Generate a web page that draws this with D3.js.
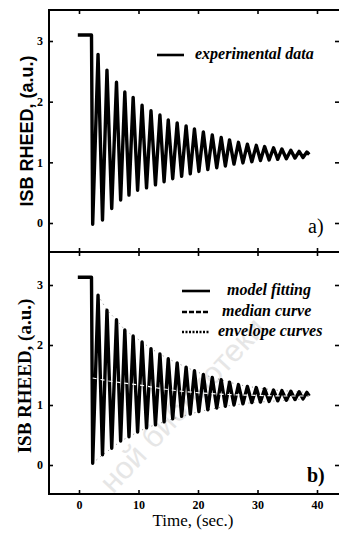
<!DOCTYPE html>
<html>
<head>
<meta charset="utf-8">
<script src="https://cdn.jsdelivr.net/npm/d3@7"></script>
<style>
  body { margin: 0; background: #fff; }
  svg { display: block; }
</style>
</head>
<body>
<svg id="chart" width="339" height="535"></svg>
<script>
// extrema (time in sec, intensity in a.u.)
const troughTimes = [2.3, 3.95, 5.5, 7.0, 8.4, 9.85, 11.35, 12.85, 14.3, 15.75, 17.25, 18.7, 20.15, 21.65, 23.15, 24.6, 26.05, 27.55, 29.05, 30.5, 31.95, 33.4, 34.85, 36.3, 37.65];
const peakTimes = [3.2, 4.7, 6.3, 7.7, 9.1, 10.6, 12.1, 13.6, 15.0, 16.5, 18.0, 19.4, 20.9, 22.4, 23.9, 25.3, 26.8, 28.3, 29.8, 31.2, 32.7, 34.1, 35.6, 37.0, 38.3];

const expPlateau = [[-0.2, 3.1], [2.1, 3.1]];
const expTroughs = [-0.02, 0.05, 0.24, 0.38, 0.46, 0.54, 0.58, 0.63, 0.68, 0.73, 0.77, 0.81, 0.85, 0.88, 0.91, 0.94, 0.97, 0.99, 1.01, 1.03, 1.04, 1.05, 1.06, 1.07, 1.08];
const expPeaks = [2.78, 2.52, 2.32, 2.16, 2.07, 1.94, 1.85, 1.78, 1.70, 1.65, 1.60, 1.55, 1.50, 1.45, 1.41, 1.37, 1.33, 1.30, 1.28, 1.26, 1.24, 1.22, 1.20, 1.18, 1.17];
const expEnd = [38.7, 1.13];

const fitPlateau = [[-0.2, 3.13], [2.1, 3.13]];
const fitTroughs = [0.03, 0.17, 0.28, 0.40, 0.47, 0.55, 0.62, 0.67, 0.72, 0.77, 0.81, 0.85, 0.89, 0.92, 0.95, 0.98, 1.00, 1.02, 1.04, 1.05, 1.06, 1.07, 1.08, 1.09, 1.10];
const fitPeaks = [2.83, 2.58, 2.42, 2.25, 2.15, 2.05, 1.94, 1.85, 1.77, 1.70, 1.63, 1.57, 1.51, 1.46, 1.42, 1.38, 1.34, 1.31, 1.29, 1.27, 1.25, 1.24, 1.23, 1.22, 1.21];
const fitEnd = [38.7, 1.15];

const medianTimes = [2.3, 5, 8, 11, 14, 18, 22, 26, 30, 34, 38.7];
const medianVals = [1.45, 1.40, 1.36, 1.32, 1.27, 1.22, 1.19, 1.17, 1.16, 1.15, 1.15];

const xTicks = [0, 10, 20, 30, 40];
const yTicks = [0, 1, 2, 3];

const svg = d3.select("#chart");
const serif = "'Liberation Serif', 'DejaVu Serif', serif";
const sans = "'Liberation Sans', Arial, sans-serif";

const x = d3.scaleLinear().domain([0, 40]).range([79, 317]);
const ya = d3.scaleLinear().domain([0, 3]).range([223, 41]);
const yb = d3.scaleLinear().domain([0, 3]).range([465, 285]);

const frameLeft = 49, frameRight = 339, frameTop = 10, frameMid = 252, frameBottom = 494;

// faint scan watermark
svg.append("text")
  .attr("transform", "translate(190,412) rotate(-47)")
  .attr("text-anchor", "middle")
  .style("font-family", sans)
  .style("font-size", "31px")
  .attr("fill", "#e6e6e6")
  .text("ной библиотеки");

function series(plateau, troughs, peaks, end) {
  const pts = plateau.slice();
  troughTimes.forEach((t, i) => {
    pts.push([t, troughs[i]]);
    pts.push([peakTimes[i], peaks[i]]);
  });
  pts.push(end);
  return pts;
}

function styleAxis(g) {
  g.select(".domain").remove();
  g.selectAll("line").attr("stroke", "#000").attr("stroke-width", 1.6);
  g.selectAll("text")
    .style("font-family", serif)
    .style("font-weight", "bold")
    .style("font-size", "12px")
    .attr("fill", "#000");
}

// ticks
svg.append("g").attr("transform", `translate(0,${frameTop})`)
  .call(d3.axisTop(x).tickValues(xTicks).tickSize(-4).tickFormat(""))
  .call(styleAxis);
svg.append("g").attr("transform", `translate(0,${frameMid})`)
  .call(d3.axisBottom(x).tickValues(xTicks).tickSize(-4).tickFormat(""))
  .call(styleAxis);
svg.append("g").attr("transform", `translate(0,${frameMid})`)
  .call(d3.axisTop(x).tickValues(xTicks).tickSize(-4).tickFormat(""))
  .call(styleAxis);
svg.append("g").attr("transform", `translate(0,${frameBottom})`)
  .call(d3.axisBottom(x).tickValues(xTicks).tickSize(-4).tickPadding(6))
  .call(styleAxis);

svg.append("g").attr("transform", `translate(${frameLeft},0)`)
  .call(d3.axisLeft(ya).tickValues(yTicks).tickSize(-4).tickPadding(6).tickFormat(d3.format("d")))
  .call(styleAxis);
svg.append("g").attr("transform", `translate(${frameLeft},0)`)
  .call(d3.axisLeft(yb).tickValues(yTicks).tickSize(-4).tickPadding(6).tickFormat(d3.format("d")))
  .call(styleAxis);
svg.append("g").attr("transform", `translate(${frameRight},0)`)
  .call(d3.axisRight(ya).tickValues(yTicks).tickSize(-4).tickFormat(""))
  .call(styleAxis);
svg.append("g").attr("transform", `translate(${frameRight},0)`)
  .call(d3.axisRight(yb).tickValues(yTicks).tickSize(-4).tickFormat(""))
  .call(styleAxis);

// frame
const frame = svg.append("g").attr("stroke", "#000").attr("stroke-width", 2).attr("fill", "none");
frame.append("line").attr("x1", frameLeft).attr("x2", frameLeft).attr("y1", frameTop - 1).attr("y2", frameBottom + 1);
frame.append("line").attr("x1", frameLeft).attr("x2", frameRight).attr("y1", frameTop).attr("y2", frameTop);
frame.append("line").attr("x1", frameLeft).attr("x2", frameRight).attr("y1", frameMid).attr("y2", frameMid);
frame.append("line").attr("x1", frameLeft).attr("x2", frameRight).attr("y1", frameBottom).attr("y2", frameBottom);

// panel a: experimental data
const lineA = d3.line().x(d => x(d[0])).y(d => ya(d[1]));
svg.append("path")
  .datum(series(expPlateau, expTroughs, expPeaks, expEnd))
  .attr("d", lineA)
  .attr("fill", "none").attr("stroke", "#000").attr("stroke-width", 3.4)
  .attr("stroke-linejoin", "round");

// panel b: envelopes (under), model fitting, median
const lineB = d3.line().x(d => x(d[0])).y(d => yb(d[1]));
svg.append("path")
  .datum(peakTimes.map((t, i) => [t, fitPeaks[i]]))
  .attr("d", lineB)
  .attr("fill", "none").attr("stroke", "#666").attr("stroke-width", 0.8)
  .attr("stroke-dasharray", "1,4");
svg.append("path")
  .datum(troughTimes.map((t, i) => [t, fitTroughs[i]]))
  .attr("d", lineB)
  .attr("fill", "none").attr("stroke", "#666").attr("stroke-width", 0.8)
  .attr("stroke-dasharray", "1,4");
svg.append("path")
  .datum(series(fitPlateau, fitTroughs, fitPeaks, fitEnd))
  .attr("d", lineB)
  .attr("fill", "none").attr("stroke", "#000").attr("stroke-width", 3.4)
  .attr("stroke-linejoin", "round");
svg.append("path")
  .datum(medianTimes.map((t, i) => [t, medianVals[i]]))
  .attr("d", lineB)
  .attr("fill", "none").attr("stroke", "#fff").attr("stroke-width", 1.2)
  .attr("stroke-dasharray", "4,4");

// legends
function legendItem(x1, x2, ly, dash, tx, label) {
  svg.append("line")
    .attr("x1", x1).attr("x2", x2).attr("y1", ly).attr("y2", ly)
    .attr("stroke", "#000").attr("stroke-width", 2.6)
    .attr("stroke-dasharray", dash);
  svg.append("text")
    .attr("x", tx).attr("y", ly + 4)
    .style("font-family", serif)
    .style("font-style", "italic")
    .style("font-weight", "bold")
    .style("font-size", "16px")
    .text(label);
}
legendItem(157, 184, 55, null, 195, "experimental data");
legendItem(182, 210, 291, null, 227, "model fitting");
legendItem(182, 210, 312, "5,2", 222, "median curve");
legendItem(182, 210, 332, "2,1.5", 218, "envelope curves");

// panel letters
svg.append("text").attr("x", 308).attr("y", 233)
  .style("font-family", serif).style("font-size", "20px").text("a)");
svg.append("text").attr("x", 307).attr("y", 482)
  .style("font-family", serif).style("font-weight", "bold").style("font-size", "20px").text("b)");

// axis titles
svg.append("text")
  .attr("transform", "translate(33,131) rotate(-90)")
  .attr("text-anchor", "middle")
  .style("font-family", sans).style("font-weight", "bold").style("font-size", "18px")
  .text("ISB RHEED, (a.u.)");
svg.append("text")
  .attr("transform", "translate(31,376) rotate(-90)")
  .attr("text-anchor", "middle")
  .style("font-family", serif).style("font-weight", "bold").style("font-size", "19px")
  .text("ISB RHEED, (a.u.)");
svg.append("text")
  .attr("x", 193).attr("y", 526)
  .attr("text-anchor", "middle")
  .style("font-family", serif).style("font-size", "17px")
  .text("Time, (sec.)");
</script>
</body>
</html>
